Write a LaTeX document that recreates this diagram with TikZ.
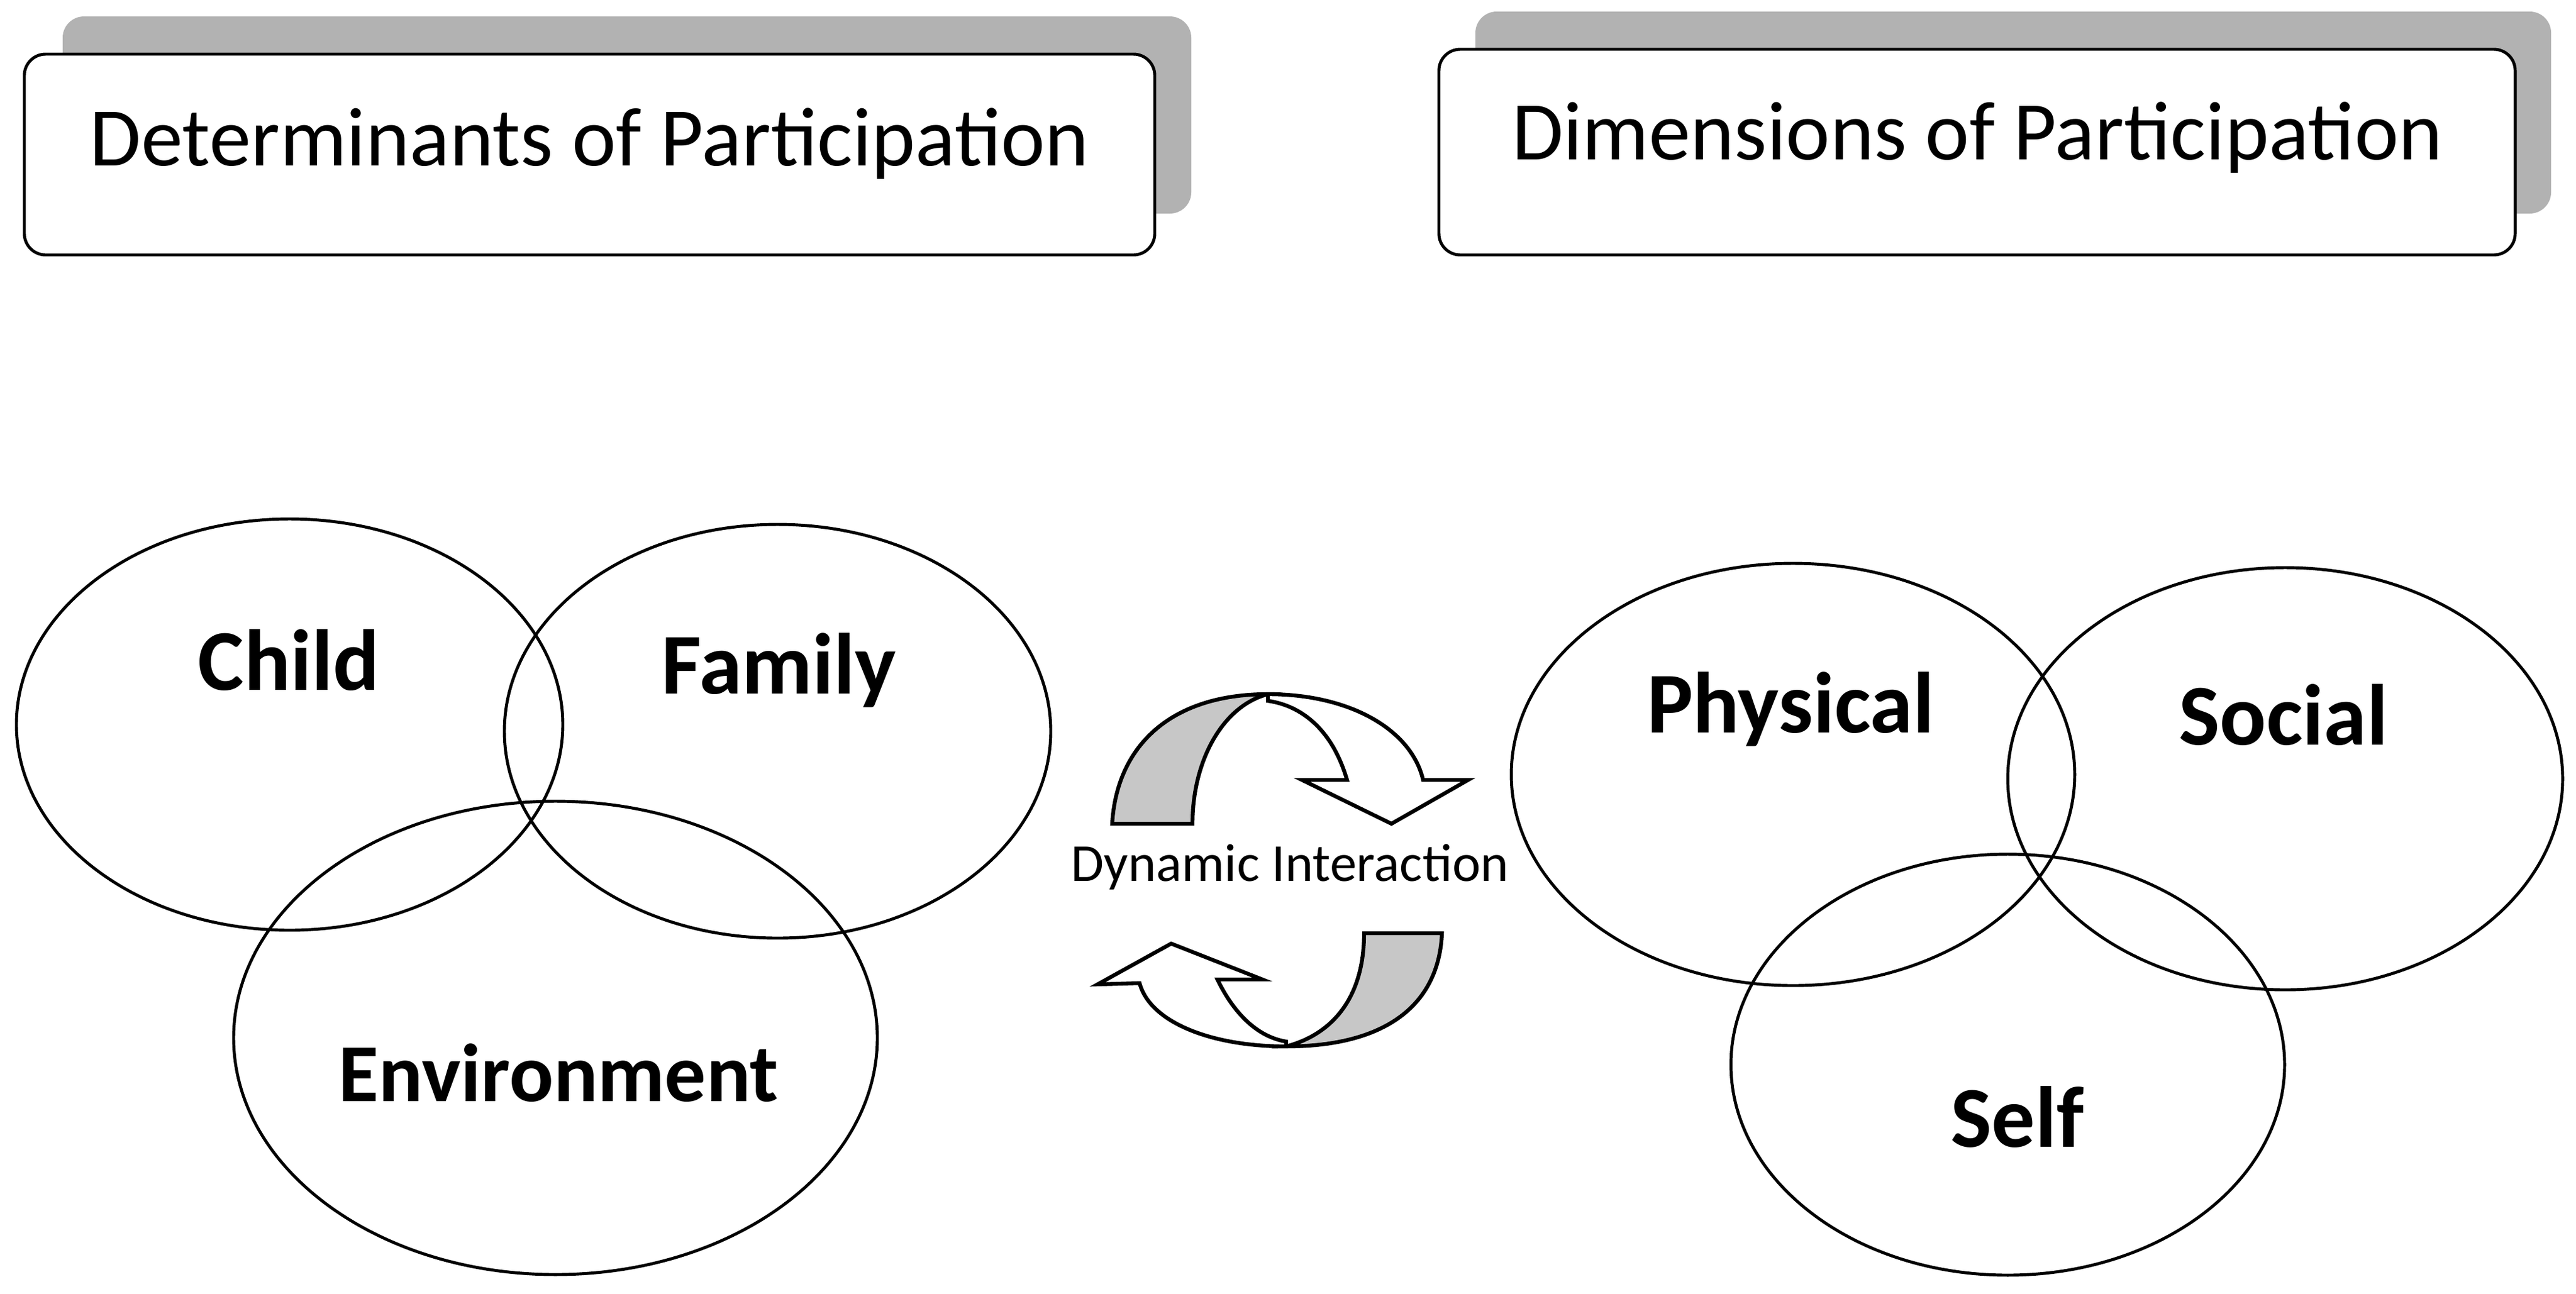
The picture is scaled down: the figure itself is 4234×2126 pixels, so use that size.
\documentclass[tikz,border=0pt]{standalone}
\usepackage{fontspec}
\setmainfont{Carlito}
\begin{document}
\begin{tikzpicture}[x={(0.01cm,0)},y={(0,-0.01cm)},line width=1.4pt,
  hdr/.style={draw,rounded corners=0.35cm,fill=white},
  shd/.style={fill=black!30,rounded corners=0.35cm},
  lab/.style={font=\fontsize{40.5}{48}\selectfont\bfseries},
  htxt/.style={font=\fontsize{39}{46}\selectfont},
  arr/.style={draw,line join=miter,line width=1.8pt}]
\useasboundingbox (0,0) rectangle (4234,2126);
% headers
\fill[shd] (103,27) rectangle (1958,351);
\draw[hdr] (40,89) rectangle (1898,419);
\node[htxt] (h1) at (969,236) {Determinants of Participation};
\fill[shd] (2425,19) rectangle (4193,351);
\draw[hdr] (2365,81) rectangle (4134,419);
\node[htxt] (h2) at (3250,226) {Dimensions of Participation};
% ellipses
\draw (476,1191) ellipse [x radius=449,y radius=338];
\draw (1278,1202) ellipse [x radius=449,y radius=340];
\draw (913,1706) ellipse [x radius=529,y radius=389];
\draw (2947,1273) ellipse [x radius=463,y radius=347];
\draw (3756,1280) ellipse [x radius=456,y radius=347];
\draw (3300,1750) ellipse [x radius=455,y radius=346];
\node[lab] (child) at (475,1085) {Child};
\node[lab] (family) at (1280,1102) {Family};
\node[font=\fontsize{38.5}{46}\selectfont\bfseries] (env) at (918,1763) {Environment};
\node[lab] (phys) at (2943,1166) {Physical};
\node[lab] (soc) at (3753,1175) {Social};
\node[lab] (self) at (3316,1836) {Self};
% arrows
\filldraw[fill=black!22,arr] (1828,1354) .. controls (1835,1230) and (1920,1141) .. (2084,1141)
  .. controls (2010,1160) and (1960,1250) .. (1960,1354) -- cycle;
\filldraw[fill=white,arr] (2084,1141) .. controls (2220,1141) and (2320,1200) .. (2339,1282)
  -- (2413,1282) -- (2287,1354) -- (2140,1282) -- (2214,1282)
  .. controls (2190,1200) and (2140,1160) .. (2084,1152) -- cycle;
\filldraw[fill=black!22,arr] (2370,1534) .. controls (2365,1650) and (2280,1720) .. (2114,1720)
  .. controls (2190,1700) and (2242,1640) .. (2242,1534) -- cycle;
\filldraw[fill=white,arr] (2114,1720) .. controls (1990,1720) and (1890,1680) .. (1873,1616)
  -- (1804,1618) -- (1925,1551) -- (2075,1610) -- (2001,1610)
  .. controls (2030,1670) and (2070,1705) .. (2114,1712) -- cycle;
\node[font=\fontsize{25}{30}\selectfont] (dyn) at (2120,1425) {Dynamic Interaction};
\end{tikzpicture}
\end{document}
